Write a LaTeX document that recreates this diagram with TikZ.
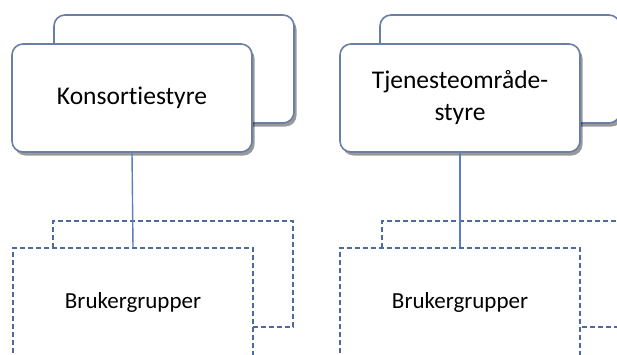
\documentclass[tikz,border=0pt]{standalone}
\usepackage{fontspec}
\setmainfont[Ligatures=NoCommon]{Carlito}
\usetikzlibrary{shadows}
\definecolor{boxline}{HTML}{6A7EA8}
\definecolor{linkline}{HTML}{5B7FC4}
\definecolor{dashline}{HTML}{4D6A9F}
\begin{document}
\begin{tikzpicture}[x=1pt, y=-1pt,
    styre/.style={draw=boxline, line width=1.6pt, fill=white, rounded corners=11pt,
        minimum width=240pt, minimum height=108pt, align=center,
        font=\fontsize{25.5}{32}\selectfont,
        drop shadow={shadow xshift=2.5pt, shadow yshift=-3.5pt, fill=black, opacity=.4}},
    gruppe/.style={draw=dashline, line width=1.4pt, dash pattern=on 5pt off 3pt, fill=white,
        minimum width=240pt, minimum height=106pt, font=\fontsize{23}{28}\selectfont},
    link/.style={draw=linkline, line width=1.4pt}]
\clip (0,0) rectangle (617,354);
% brukergrupper
\node[gruppe] (kgbak) at (173,274) {};
\node[gruppe, minimum height=116pt] (kgrupper) at (133,306) {};
\node at (133,302) [font=\fontsize{23}{28}\selectfont] (ktekst) {Brukergrupper};
\node[gruppe] (tgbak) at (502,274) {};
\node[gruppe, minimum height=116pt] (tgrupper) at (460,306) {};
\node at (460,302) [font=\fontsize{23}{28}\selectfont] (ttekst) {Brukergrupper};
% styrer
\node[styre] (kbak) at (174,69) {};
\node[styre] (kstyre) at (132,98) {Konsortiestyre};
\node[styre] (tbak) at (500,69) {};
\node[styre] (tstyre) at (460,98) {Tjenesteområde-\\styre};
\draw[link] (kstyre.south)--(kgrupper.north);
\draw[link] (tstyre.south)--(tgrupper.north);
\end{tikzpicture}
\end{document}
